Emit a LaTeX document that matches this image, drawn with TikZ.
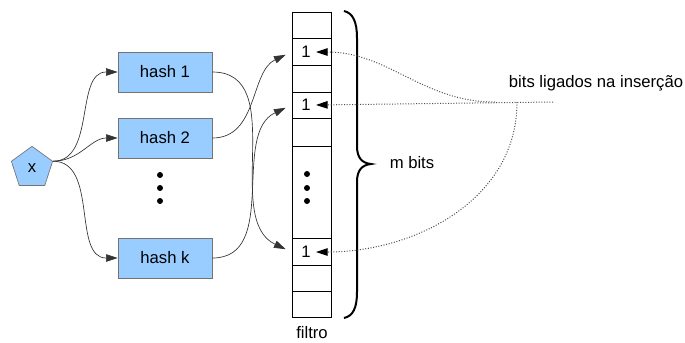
\documentclass[tikz,border=0pt]{standalone}
\usepackage{fontspec}
\setmainfont{Liberation Sans}
\usepackage{tikz}
\usetikzlibrary{shapes.geometric, arrows.meta}
\definecolor{hashblue}{HTML}{99CCFF}
\tikzstyle{hashbox} = [rectangle, minimum width=56.4pt, minimum height=24pt, text centered, draw=black!55, fill=hashblue]
\tikzstyle{key} = [regular polygon, regular polygon sides=5, minimum size=26pt, inner sep=0pt, draw=black!55, fill=hashblue]
\tikzstyle{bit} = [inner sep=3pt]
\tikzstyle{arrow} = [draw=black!80, line width=0.4pt, ->, >={Stealth[length=7pt,width=4.5pt,inset=0pt]}]
\tikzstyle{setline} = [draw=black!70, line width=0.6pt, densely dotted, ->, >={Stealth[length=7pt,width=4.5pt,inset=0pt,black]}]

\begin{document}
\begin{tikzpicture}[x=0.6pt, y=-0.6pt, font=\normalsize]
\useasboundingbox (0,0) rectangle (685,342);

\node (x) [key] at (32,168) {x};
\node (h1) [hashbox] at (165,72) {hash 1};
\node (h2) [hashbox] at (165,138) {hash 2};
\node (hk) [hashbox] at (165,258) {hash k};
\fill (160,175) circle (1.8pt) (160,188) circle (1.8pt) (160,201) circle (1.8pt);

% bit array
\node (filtro) [draw, minimum width=23.4pt, minimum height=183pt, inner sep=0pt] at (311.5,164.5) {};
\draw (292,38) -- (331,38);
\draw (292,65) -- (331,65);
\draw (292,92) -- (331,92);
\draw (292,118) -- (331,118);
\draw (292,146) -- (331,146);
\draw (292,238) -- (331,238);
\draw (292,265) -- (331,265);
\draw (292,291) -- (331,291);
\node (b1) [bit] at (306,52) {1};
\node (b2) [bit] at (306,105) {1};
\node (bk) [bit] at (306,252) {1};
\fill (307,174) circle (1.8pt) (307,188) circle (1.8pt) (307,201) circle (1.8pt);
\node (fname) at (312,333) {filtro};

% brace
\draw [line width=1.2pt] (344,11) .. controls (353,13) and (357,22) .. (357,38) -- (357,146)
  .. controls (357,158) and (362,163) .. (371,164) .. controls (362,165) and (357,170) .. (357,182)
  -- (357,292) .. controls (357,308) and (353,316) .. (344,318);
\node (m) at (412,163) {m bits};

\node (note) at (596,83) {bits ligados na inserção};
\coordinate (src) at (553,102);
\coordinate (fork) at (517,102);
\coordinate (fork2) at (495,102);

\draw [arrow] (x.corner 5) to[out=0,in=180] (h1.west);
\draw [arrow] (x.corner 5) to[out=0,in=180] (h2.west);
\draw [arrow] (x.corner 5) to[out=0,in=180] (hk.west);

\draw [arrow, shorten >=4pt] (h1.east) to[out=0,in=155] (filtro.west |- bk);
\draw [arrow, shorten >=4pt] (h2.east) to[out=0,in=205] (filtro.west |- b1);
\draw [arrow, shorten >=4pt] (hk.east) to[out=0,in=205] (filtro.west |- b2);

\draw [setline] (src) -- (b2.east);
\draw [setline] (fork2) to[out=180,in=0] (b1.east);
\draw [setline] (fork) to[out=-90,in=0] (bk.east);

\end{tikzpicture}
\end{document}
